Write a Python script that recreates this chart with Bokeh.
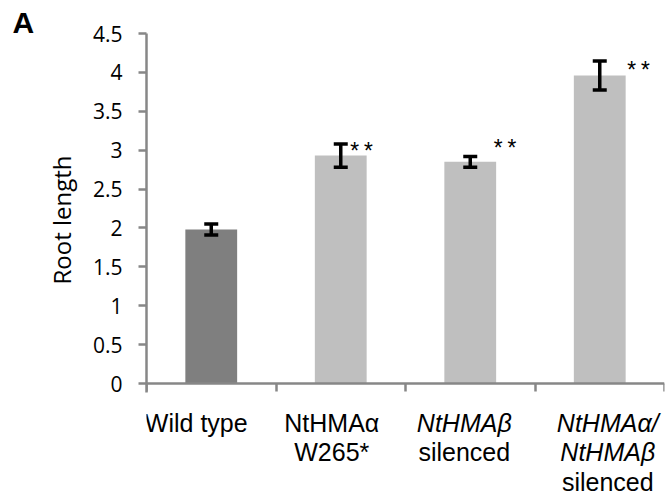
from bokeh.plotting import figure
from bokeh.models import Range1d, LinearAxis, FixedTicker, Whisker, TeeHead, ColumnDataSource, Label, Title
from bokeh.embed import file_html
from bokeh.resources import INLINE

# ---- data ----
categories = ["Wild type", "NtHMAα W265*", "NtHMAβ silenced", "NtHMAα/NtHMAβ silenced"]
label_lines = [
    [("Wild type", "normal")],
    [("NtHMAα", "normal"), ("W265*", "normal")],
    [("NtHMAβ", "italic"), ("silenced", "normal")],
    [("NtHMAα/", "italic"), ("NtHMAβ", "italic"), ("silenced", "normal")],
]
root_length = [1.98, 2.93, 2.85, 3.96]
std_err = [0.07, 0.15, 0.07, 0.185]
significance = ["", "**", "**", "**"]
bar_colors = ["#7f7f7f", "#bfbfbf", "#bfbfbf", "#bfbfbf"]
y_ticks = [0, 0.5, 1, 1.5, 2, 2.5, 3, 3.5, 4, 4.5]
y_tick_labels = ["0", "0.5", "1", "1.5", "2", "2.5", "3", "3.5", "4", "4.5"]
y_label = "Root length"
panel_letter = "A"
y_max = 4.5

# ---- layout / styling (pixels) ----
W, H = 665, 496
LEFT, RIGHT_PAD, TOP_PAD, BOTTOM_PAD = 146, 1, 33, 2
AXIS_TOP, AXIS_BOTTOM = 33, 383          # canvas y of y_max and of 0
YLABEL_BOTTOM = 284                      # canvas y where the y-axis title ends
label_dx = [-15, -9, -6, 8]
star_dx = [0, 7, 21, 25]
star_dy = [0, -10, 5, -12]
AXIS_COLOR = "#878787"

ppu = (AXIS_BOTTOM - AXIS_TOP) / y_max
frame_top, frame_bottom = TOP_PAD, H - BOTTOM_PAD
y_start = -(frame_bottom - AXIS_BOTTOM) / ppu
y_end = y_max + (AXIS_TOP - frame_top) / ppu

n = len(categories)
xs = [i + 0.5 for i in range(n)]
src = ColumnDataSource(dict(
    x=xs, top=root_length, color=bar_colors,
    upper=[m + e for m, e in zip(root_length, std_err)],
    lower=[m - e for m, e in zip(root_length, std_err)],
))

p = figure(width=W, height=H, x_range=Range1d(0, n), y_range=Range1d(y_start, y_end),
           output_backend="svg", toolbar_location=None,
           x_axis_type=None, y_axis_type=None,
           min_border_left=LEFT, min_border_right=RIGHT_PAD,
           min_border_top=TOP_PAD, min_border_bottom=BOTTOM_PAD)
p.outline_line_color = None
p.xgrid.visible = False
p.ygrid.visible = False
p.background_fill_color = "white"
p.border_fill_color = "white"

# panel letter as the plot title
p.title.text = panel_letter
p.title.align = "left"
p.title.offset = -134
p.title.text_font = "Liberation Sans"
p.title.text_font_size = "30px"
p.title.text_font_style = "bold"
p.title.text_color = "black"
p.title.standoff = -10

p.vbar(x="x", top="top", bottom=0, width=0.4, color="color", line_color=None, source=src)

whisk = Whisker(base="x", upper="upper", lower="lower", source=src, level="overlay",
                line_color="black", line_width=3.5,
                upper_head=TeeHead(size=14, line_width=3.5, line_color="black"),
                lower_head=TeeHead(size=14, line_width=3.5, line_color="black"))
p.add_layout(whisk)

# y axis
yaxis = LinearAxis(ticker=FixedTicker(ticks=y_ticks),
                   major_label_overrides={t: l for t, l in zip(y_ticks, y_tick_labels)},
                   bounds=(-9 / ppu, y_max))
yaxis.axis_line_color = AXIS_COLOR
yaxis.axis_line_width = 2.5
yaxis.major_tick_line_color = AXIS_COLOR
yaxis.major_tick_line_width = 2.5
yaxis.major_tick_out = 8
yaxis.major_tick_in = 0
yaxis.minor_tick_line_color = None
yaxis.major_label_text_font = "Open Sans"
yaxis.major_label_text_font_size = "21px"
yaxis.major_label_text_color = "black"
yaxis.major_label_standoff = 16
p.add_layout(yaxis, "left")

# y axis title
ytitle = Title(text=y_label, align="left", offset=frame_bottom - YLABEL_BOTTOM,
               text_font="Open Sans", text_font_size="24px", text_font_style="normal",
               text_color="black", standoff=24)
p.add_layout(ytitle, "left")

# x axis at y = 0, ticks at category boundaries pointing down
xaxis = LinearAxis(ticker=FixedTicker(ticks=list(range(n + 1))), fixed_location=0,
                   major_label_overrides={i: "" for i in range(n + 1)})
xaxis.axis_line_color = AXIS_COLOR
xaxis.axis_line_width = 2.5
xaxis.major_tick_line_color = AXIS_COLOR
xaxis.major_tick_line_width = 2.5
xaxis.major_tick_out = 0
xaxis.major_tick_in = 8
xaxis.minor_tick_line_color = None
xaxis.major_label_standoff = 0
xaxis.major_label_text_font_size = "1px"
p.add_layout(xaxis, "above")

# category labels
for i, lines in enumerate(label_lines):
    for j, (txt, style) in enumerate(lines):
        p.add_layout(Label(x=xs[i], y=0, x_offset=label_dx[i], y_offset=-39 - 29.5 * j,
                           text=txt, text_font="Liberation Sans", text_font_size="25px",
                           text_font_style=style, text_color="black",
                           text_align="center", text_baseline="middle"))

# significance marks
for i, s in enumerate(significance):
    if s:
        p.add_layout(Label(x=xs[i], y=root_length[i] + std_err[i], x_offset=star_dx[i], y_offset=star_dy[i],
                           text=s, text_font="Liberation Mono", text_font_size="23px",
                           text_color="black", text_align="left", text_baseline="middle"))

open("out.html", "w").write(file_html(p, INLINE))
